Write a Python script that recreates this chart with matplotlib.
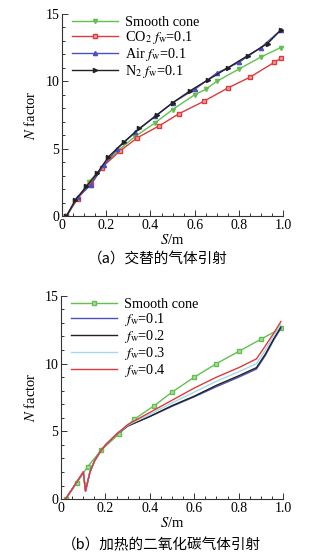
import matplotlib
matplotlib.use("Agg")
import matplotlib.pyplot as plt
from matplotlib.ticker import MultipleLocator

plt.rcParams['font.family'] = ['Liberation Serif', 'Noto Sans CJK SC']
plt.rcParams['mathtext.fontset'] = 'stix'

# ---- panel (a) data ----
smooth_s = [0.02, 0.07, 0.12, 0.18, 0.25, 0.33, 0.42, 0.50, 0.60, 0.65, 0.70, 0.80, 0.90, 0.99]
smooth_n = [0.0, 1.3, 2.5, 3.6, 4.8, 5.9, 6.9, 7.9, 9.0, 9.4, 10.0, 10.9, 11.8, 12.5]
co2_s = [0.02, 0.07, 0.13, 0.18, 0.26, 0.34, 0.44, 0.53, 0.64, 0.75, 0.85, 0.96, 0.99]
co2_n = [0.0, 1.3, 2.4, 3.6, 4.8, 5.8, 6.7, 7.6, 8.5, 9.5, 10.3, 11.4, 11.7]
air_s = [0.02, 0.07, 0.13, 0.19, 0.25, 0.33, 0.42, 0.50, 0.60, 0.70, 0.80, 0.90, 0.99]
air_n = [0.0, 1.4, 2.3, 3.8, 5.0, 6.2, 7.4, 8.4, 9.4, 10.6, 11.4, 12.5, 13.8]
n2_s = [0.02, 0.06, 0.11, 0.16, 0.21, 0.28, 0.35, 0.43, 0.50, 0.58, 0.66, 0.75, 0.84, 0.93, 0.99]
n2_n = [0.0, 1.2, 2.2, 3.2, 4.4, 5.5, 6.5, 7.5, 8.4, 9.3, 10.1, 11.0, 11.9, 12.8, 13.8]

# ---- panel (b) data ----
smooth_b_s = [0.02, 0.07, 0.12, 0.18, 0.26, 0.33, 0.42, 0.50, 0.60, 0.70, 0.80, 0.90, 0.99]
smooth_b_n = [0.0, 1.2, 2.4, 3.6, 4.8, 5.9, 6.9, 7.9, 9.0, 10.0, 10.9, 11.8, 12.6]
fw_s = [0.02, 0.10, 0.11, 0.13, 0.15, 0.18, 0.20, 0.25, 0.30, 0.35, 0.40, 0.50, 0.60, 0.70, 0.80, 0.88, 0.92, 0.96, 0.99]
fw01_n = [0.0, 2.0, 0.6, 2.0, 2.8, 3.6, 4.0, 4.8, 5.4, 5.75, 6.1, 6.85, 7.55, 8.3, 9.0, 9.6, 10.6, 11.8, 12.6]
fw02_n = [0.0, 2.0, 0.6, 2.0, 2.8, 3.6, 4.0, 4.8, 5.4, 5.75, 6.1, 6.9, 7.6, 8.4, 9.1, 9.7, 10.7, 11.9, 12.7]
fw03_n = [0.0, 2.0, 0.6, 2.0, 2.8, 3.6, 4.0, 4.8, 5.45, 5.85, 6.25, 7.1, 7.9, 8.7, 9.4, 10.0, 11.0, 12.1, 12.9]
fw04_n = [0.0, 2.0, 0.6, 2.0, 2.8, 3.6, 4.0, 4.8, 5.5, 5.95, 6.4, 7.3, 8.2, 9.0, 9.7, 10.35, 11.3, 12.3, 13.1]

xticks = [0.0, 0.2, 0.4, 0.6, 0.8, 1.0]
xticklabels = ['0', '0.2', '0.4', '0.6', '0.8', '1.0']
yticks = [0, 5, 10, 15]

GREEN = '#62c04f'
RED = '#e0393a'
BLUE = '#4d4fc0'
BLACK = '#222222'
CYAN = '#9fdcea'

fig = plt.figure(figsize=(3.25, 5.54), dpi=100)
ax1 = fig.add_axes([0.191, 0.610, 0.680, 0.365])
ax2 = fig.add_axes([0.188, 0.099, 0.683, 0.367])

def style(ax):
    ax.set_xlim(0, 1.0)
    ax.set_ylim(0, 15)
    ax.spines['top'].set_visible(False)
    ax.spines['right'].set_visible(False)
    for s in ('left', 'bottom'):
        ax.spines[s].set_linewidth(0.8)
        ax.spines[s].set_color('#333333')
    ax.set_xticks(xticks)
    ax.set_xticklabels(xticklabels)
    ax.set_yticks(yticks)
    ax.xaxis.set_minor_locator(MultipleLocator(0.05))
    ax.yaxis.set_minor_locator(MultipleLocator(1))
    ax.tick_params(which='both', direction='in', labelsize=10, color='#333333', width=0.7)
    ax.tick_params(which='major', length=4, pad=2)
    ax.tick_params(which='minor', length=2)
    ax.set_xlabel('$S$/m', fontsize=10.5, labelpad=1)
    ax.set_ylabel('$N$ factor', fontsize=10.5, labelpad=5)

ms = 3.0
ax1.plot(smooth_s, smooth_n, color=GREEN, lw=1, marker='v', ms=ms, label='Smooth cone')
ax1.plot(co2_s, co2_n, color=RED, lw=1, marker='s', ms=ms - 0.6, mfc='#f3a0a0', label='CO$_2$ $f_{\\rm w}$=0.1')
ax1.plot(air_s, air_n, color=BLUE, lw=1, marker='^', ms=ms, label='Air $f_{\\rm w}$=0.1')
ax1.plot(n2_s, n2_n, color=BLACK, lw=1, marker='>', ms=ms, label='N$_2$ $f_{\\rm w}$=0.1')
style(ax1)
ax1.legend(loc='upper left', bbox_to_anchor=(0.0, 1.04), frameon=False, fontsize=10.3,
           handlelength=3.2, handletextpad=0.5, labelspacing=0.0, borderaxespad=0.3)

ax2.plot(smooth_b_s, smooth_b_n, color=GREEN, lw=1, marker='s', ms=ms - 0.6, mfc='#a8e09a', label='Smooth cone')
ax2.plot(fw_s, fw01_n, color=BLUE, lw=1, label='$f_{\\rm w}$=0.1')
ax2.plot(fw_s, fw02_n, color=BLACK, lw=1, label='$f_{\\rm w}$=0.2')
ax2.plot(fw_s, fw03_n, color=CYAN, lw=1, label='$f_{\\rm w}$=0.3')
ax2.plot(fw_s, fw04_n, color=RED, lw=1, label='$f_{\\rm w}$=0.4')
style(ax2)
ax2.legend(loc='upper left', bbox_to_anchor=(0.0, 1.04), frameon=False, fontsize=10.3,
           handlelength=3.2, handletextpad=0.5, labelspacing=0.0, borderaxespad=0.3)

cap_font = ['Noto Sans CJK SC', 'DejaVu Sans']
fig.text(0.487, 1 - 260 / 554, '（a）交替的气体引射', ha='center', va='center', fontsize=10.5, family=cap_font)
fig.text(0.497, 1 - 545 / 554, '（b）加热的二氧化碳气体引射', ha='center', va='center', fontsize=10.5, family=cap_font)

fig.savefig('out.png', dpi=100)
